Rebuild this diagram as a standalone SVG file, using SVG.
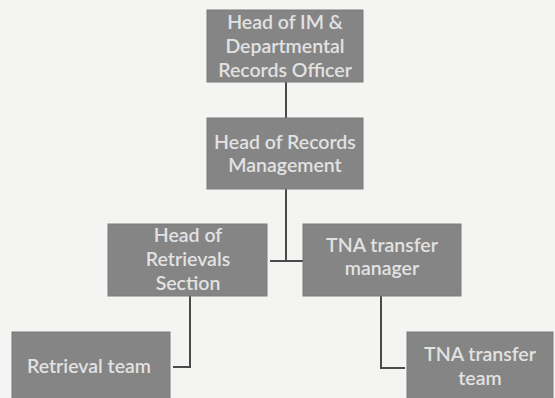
<svg xmlns="http://www.w3.org/2000/svg" width="555" height="398" viewBox="0 0 555 398">
<style>
.box{fill:#858585;stroke:#7a7a7a;stroke-width:1}
.t{font-family:Lato,"Open Sans","Liberation Sans",sans-serif;font-size:19.5px;font-weight:600;fill:#e2e2e2;text-anchor:middle}
.c{fill:none;stroke:#4a4a4a;stroke-width:2}
</style>
<rect width="555" height="398" fill="#f4f4f2"/>
<g id="connectors">
<path class="c" d="M286 82V118"/>
<path class="c" d="M286 189V261M270 261H303"/>
<path class="c" d="M190 296V367H173"/>
<path class="c" d="M381 296V368H405"/>
</g>
<g id="n1"><rect class="box" x="207" y="10" width="156" height="72"/>
<text class="t" x="285" y="29">Head of IM &amp;</text><text class="t" x="285" y="53">Departmental</text><text class="t" x="285" y="77">Records Officer</text></g>
<g id="n2"><rect class="box" x="207" y="118" width="156" height="71"/>
<text class="t" x="285" y="149">Head of Records</text><text class="t" x="285" y="172">Management</text></g>
<g id="n3"><rect class="box" x="108" y="224" width="159" height="72"/>
<text class="t" x="188" y="242">Head of</text><text class="t" x="188" y="266">Retrievals</text><text class="t" x="188" y="290">Section</text></g>
<g id="n4"><rect class="box" x="303" y="224" width="158" height="72"/>
<text class="t" x="382" y="252">TNA transfer</text><text class="t" x="382" y="275">manager</text></g>
<g id="n5"><rect class="box" x="12" y="332" width="158" height="70"/>
<text class="t" x="89" y="373">Retrieval team</text></g>
<g id="n6"><rect class="box" x="407" y="332" width="146" height="70"/>
<text class="t" x="480" y="361">TNA transfer</text><text class="t" x="480" y="385">team</text></g>
</svg>
